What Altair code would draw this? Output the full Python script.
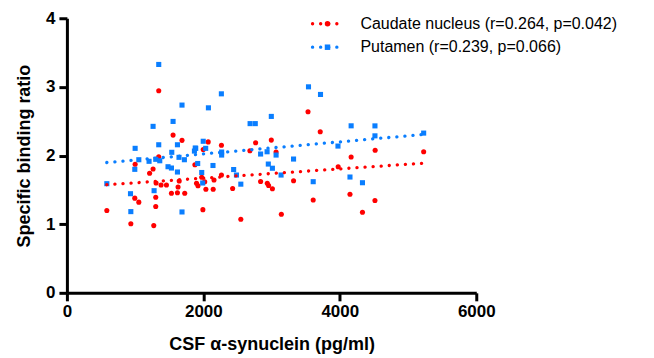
import altair as alt
import pandas as pd

# ---- data (CSF alpha-synuclein pg/ml, specific binding ratio)
caudate_x = [1346, 1556, 1687, 1346, 1000, 1263, 1212, 1307, 1380, 1459, 1646, 1629, 1532, 1620,
             1727, 1302, 995, 1054, 1302, 585, 937, 1273, 2071, 1998, 2265, 1876, 1976, 2265,
             2156, 1900, 1921, 2020, 2037, 2144, 2429, 1993, 2766, 2996, 2682, 3066, 3534, 3713,
             2839, 2937, 2956, 3012, 3322, 2549, 3143, 3610, 4518, 4166, 3976, 4149, 4515, 4332, 5229]
caudate_y = [2.943, 2.298, 2.221, 1.983, 1.873, 1.804, 1.741, 1.600, 1.571, 1.571, 1.629, 1.542,
             1.450, 1.459, 1.450, 1.392, 1.379, 1.321, 1.258, 1.200, 1.007, 0.979, 2.199, 2.087,
             2.150, 1.865, 1.683, 1.716, 1.644, 1.596, 1.559, 1.619, 1.508, 1.510, 1.520, 1.212,
             2.186, 2.225, 2.070, 2.051, 2.637, 2.346, 1.622, 1.596, 1.564, 1.517, 1.632, 1.073,
             1.145, 1.353, 2.076, 1.978, 1.836, 1.436, 1.345, 1.174, 2.055]

putamen_x = [1346, 1687, 1556, 1263, 1000, 1346, 1537, 1620, 1888, 1054, 1204, 1302, 1361, 1643,
             1722, 995, 1482, 1532, 1620, 585, 932, 1278, 937, 1687, 1998, 1881, 1869, 2034, 2268,
             1917, 2141, 1976, 1990, 2264, 2074, 3541, 3717, 2685, 2761, 2996, 2839, 2934, 3066,
             3322, 2444, 2485, 2952, 3012, 3139, 2549, 3610, 4166, 4515, 4515, 3973, 5229, 4149,
             4332, 2268]
putamen_y = [3.327, 2.735, 2.497, 2.425, 2.105, 2.157, 2.047, 2.157, 2.105, 1.939, 1.916, 1.945,
             1.924, 1.974, 1.939, 1.799, 1.837, 1.818, 1.760, 1.590, 1.444, 1.488, 1.183, 1.178,
             2.208, 2.109, 2.065, 2.105, 2.007, 1.884, 1.855, 1.753, 1.600, 2.899, 2.695, 3.001,
             2.890, 2.465, 2.465, 2.570, 2.022, 2.055, 2.007, 1.949, 1.796, 1.716, 1.876, 1.815,
             1.716, 1.583, 1.619, 2.433, 2.432, 2.287, 2.138, 2.327, 1.687, 1.604, 2.051]

series = ["Caudate nucleus", "Putamen"]
legend_labels = ["Caudate nucleus (r=0.264, p=0.042)", "Putamen (r=0.239, p=0.066)"]
x_ticks = [0, 2000, 4000, 6000]
y_ticks = [0, 1, 2, 3, 4]

RED = "#FF0000"
BLUE = "#0A7EFF"
FONT = "Liberation Sans"

df = pd.concat([
    pd.DataFrame({"series": series[0], "x": caudate_x, "y": caudate_y}),
    pd.DataFrame({"series": series[1], "x": putamen_x, "y": putamen_y}),
], ignore_index=True)

color = alt.Color("series:N", scale=alt.Scale(domain=series, range=[RED, BLUE]), legend=None)
shape = alt.Shape("series:N", scale=alt.Scale(domain=series, range=["circle", "square"]), legend=None)

xenc = alt.X("x:Q", scale=alt.Scale(domain=[0, 6000], nice=False),
             axis=alt.Axis(values=x_ticks, title="CSF α-synuclein (pg/ml)", format="d"))
yenc = alt.Y("y:Q", scale=alt.Scale(domain=[0, 4], nice=False),
             axis=alt.Axis(values=y_ticks, title="Specific binding ratio", format="d"))

points = alt.Chart(df).mark_point(filled=True, size=26, opacity=1).encode(
    x=xenc, y=yenc, color=color, shape=shape
)

lines = alt.Chart(df).transform_regression(
    "x", "y", groupby=["series"]
).mark_line(strokeDash=[0.1, 8], strokeCap="round", strokeWidth=3.3).encode(
    x="x:Q", y="y:Q", color=color
)

one = alt.Data(values=[{}])
legend_layers = []
for i, (lab, col, shp) in enumerate(zip(legend_labels, [RED, BLUE], ["circle", "square"])):
    yy = 5.5 + i * 23.5
    legend_layers.append(alt.Chart(one).mark_rule(
        color=col, strokeDash=[0.1, 8], strokeCap="round", strokeWidth=3.3
    ).encode(x=alt.value(246), x2=alt.value(274), y=alt.value(yy)))
    legend_layers.append(alt.Chart(one).mark_point(
        filled=True, size=30, color=col, shape=shp, opacity=1
    ).encode(x=alt.value(261), y=alt.value(yy)))
    legend_layers.append(alt.Chart(one).mark_text(
        align="left", baseline="middle", font=FONT, fontSize=16, color="black"
    ).encode(x=alt.value(294), y=alt.value(yy), text=alt.value(lab)))

chart = alt.layer(points, lines, *legend_layers).properties(
    width=410, height=275,
    autosize=alt.AutoSizeParams(type="none"),
    padding={"left": 59, "top": 10, "right": 170, "bottom": 62},
).configure_view(stroke=None).configure_axis(
    grid=False,
    domainColor="black", domainWidth=3,
    tickColor="black", tickWidth=3, tickSize=8,
    labelFont=FONT, labelFontWeight="bold", labelFontSize=17, labelColor="black",
    titleFont=FONT, titleFontWeight="bold", titleFontSize=18, titleColor="black",
    labelFlush=False,
).configure_axisX(labelPadding=3, titlePadding=16).configure_axisY(labelPadding=4, titlePadding=12)

chart.save("out.html", embed_options={"renderer": "svg", "actions": False})
